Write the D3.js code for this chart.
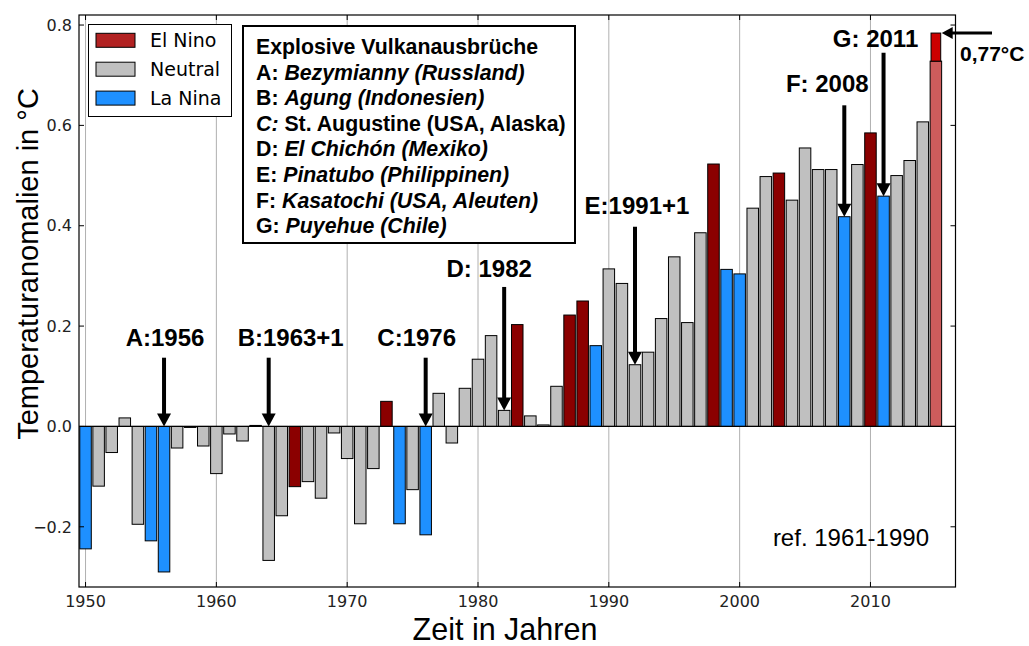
<!DOCTYPE html>
<html>
<head>
<meta charset="utf-8">
<script src="https://cdn.jsdelivr.net/npm/d3@7"></script>
<style>
	body { margin: 0; background: #fff; }
	svg { display: block; }
</style>
</head>
<body>
<div id="graph"></div>
<script>
// years 1950 - 2015
const years = [
	1950, 1951, 1952, 1953, 1954, 1955, 1956, 1957, 1958, 1959,
	1960, 1961, 1962, 1963, 1964, 1965, 1966, 1967, 1968, 1969,
	1970, 1971, 1972, 1973, 1974, 1975, 1976, 1977, 1978, 1979,
	1980, 1981, 1982, 1983, 1984, 1985, 1986, 1987, 1988, 1989,
	1990, 1991, 1992, 1993, 1994, 1995, 1996, 1997, 1998, 1999,
	2000, 2001, 2002, 2003, 2004, 2005, 2006, 2007, 2008, 2009,
	2010, 2011, 2012, 2013, 2014, 2015
];
// temperature anomaly (ref. 1961-1990)
const anomaly = [
	-0.244, -0.119, -0.052, 0.017, -0.195, -0.228, -0.290, -0.043, -0.002, -0.039,
	-0.094, -0.015, -0.029, 0.002, -0.267, -0.178, -0.120, -0.110, -0.143, -0.013,
	-0.064, -0.194, -0.084, 0.050, -0.194, -0.126, -0.216, 0.066, -0.033, 0.076,
	0.134, 0.181, 0.032, 0.203, 0.021, 0.003, 0.080, 0.222, 0.250, 0.161,
	0.314, 0.285, 0.123, 0.148, 0.215, 0.338, 0.207, 0.386, 0.523, 0.313,
	0.304, 0.435, 0.498, 0.505, 0.451, 0.555, 0.512, 0.512, 0.418, 0.522,
	0.585, 0.459, 0.500, 0.530, 0.607, 0.728
];
// ENSO phase: E = El Nino, N = Neutral, L = La Nina, P = 2015 (provisional)
const phase = [
	"L", "N", "N", "N", "N", "L", "L", "N", "N", "N",
	"N", "N", "N", "N", "N", "N", "E", "N", "N", "N",
	"N", "N", "N", "E", "L", "N", "L", "N", "N", "N",
	"N", "N", "N", "E", "N", "N", "N", "E", "E", "L",
	"N", "N", "N", "N", "N", "N", "N", "N", "E", "L",
	"L", "N", "N", "E", "N", "N", "N", "N", "L", "N",
	"E", "L", "N", "N", "N", "P"
];
// 2015 latest value on top of the bar
const latestYear = 2015;
const latestValue = 0.784;
const latestLabel = "0,77°C";

// volcanic eruptions
const eruptionYears = [1956, 1964, 1976, 1982, 1992, 2008, 2011];
const eruptionLabels = ["A:1956", "B:1963+1", "C:1976", "D: 1982", "E:1991+1", "F: 2008", "G: 2011"];

const legendLabels = ["El Nino", "Neutral", "La Nina"];
const xTicks = [1950, 1960, 1970, 1980, 1990, 2000, 2010];
const yTicks = [-0.2, 0.0, 0.2, 0.4, 0.6, 0.8];

const colors = { E: "#8b0000", N: "#c0c0c0", L: "#1e90ff", P: "#cd5c5c" };
const legendColors = ["#b22222", "#c0c0c0", "#1e90ff"];

const W = 1029, H = 646;
const plot = { left: 79, right: 955.5, top: 15, bottom: 587 };

const svg = d3.select("#graph").append("svg")
	.attr("width", W)
	.attr("height", H);

const x = d3.scaleLinear().domain([1949.5, 2016.5]).range([plot.left, plot.right]);
const y = d3.scaleLinear().domain([-0.32, 0.82]).range([plot.bottom, plot.top]);

svg.append("clipPath").attr("id", "clip")
	.append("rect")
	.attr("x", plot.left).attr("y", plot.top)
	.attr("width", plot.right - plot.left).attr("height", plot.bottom - plot.top);

// vertical grid lines
svg.append("g")
	.selectAll("line")
	.data(xTicks)
	.join("line")
	.attr("x1", (d) => x(d)).attr("x2", (d) => x(d))
	.attr("y1", plot.top).attr("y2", plot.bottom)
	.attr("stroke", "#b0b0b0")
	.attr("stroke-width", 1);

// bars
const barW = 0.88;
const bars = years.map((yr, i) => ({ year: yr, value: anomaly[i], phase: phase[i] }));
const gBars = svg.append("g").attr("clip-path", "url(#clip)");
gBars.selectAll("rect")
	.data(bars)
	.join("rect")
	.attr("x", (d) => x(d.year - barW / 2))
	.attr("width", x(barW) - x(0))
	.attr("y", (d) => y(Math.max(d.value, 0)))
	.attr("height", (d) => Math.abs(y(d.value) - y(0)))
	.attr("fill", (d) => colors[d.phase])
	.attr("stroke", "#000")
	.attr("stroke-width", 1);

// latest 2015 segment
const last = bars[bars.length - 1];
const segW = 0.74;
gBars.append("rect")
	.attr("x", x(latestYear - segW / 2))
	.attr("width", x(segW) - x(0))
	.attr("y", y(latestValue))
	.attr("height", y(last.value) - y(latestValue))
	.attr("fill", "#cc0000")
	.attr("stroke", "#000")
	.attr("stroke-width", 1);

// zero line
svg.append("line")
	.attr("x1", plot.left).attr("x2", plot.right)
	.attr("y1", y(0)).attr("y2", y(0))
	.attr("stroke", "#000")
	.attr("stroke-width", 1.2);

// frame
svg.append("rect")
	.attr("x", plot.left).attr("y", plot.top)
	.attr("width", plot.right - plot.left).attr("height", plot.bottom - plot.top)
	.attr("fill", "none")
	.attr("stroke", "#000")
	.attr("stroke-width", 1.2);

// ticks (pointing inwards on all four sides)
const tickLen = 5;
const gTicks = svg.append("g").attr("stroke", "#000").attr("stroke-width", 1);
xTicks.forEach((t) => {
	gTicks.append("line").attr("x1", x(t)).attr("x2", x(t)).attr("y1", plot.bottom).attr("y2", plot.bottom - tickLen);
	gTicks.append("line").attr("x1", x(t)).attr("x2", x(t)).attr("y1", plot.top).attr("y2", plot.top + tickLen);
});
yTicks.forEach((t) => {
	gTicks.append("line").attr("x1", plot.left).attr("x2", plot.left + tickLen).attr("y1", y(t)).attr("y2", y(t));
	gTicks.append("line").attr("x1", plot.right).attr("x2", plot.right - tickLen).attr("y1", y(t)).attr("y2", y(t));
});

// tick labels
const tickFont = "'DejaVu Sans', sans-serif";
svg.append("g")
	.selectAll("text")
	.data(xTicks)
	.join("text")
	.attr("x", (d) => x(d))
	.attr("y", 607)
	.attr("text-anchor", "middle")
	.style("font-family", tickFont)
	.style("font-size", "16px")
	.attr("fill", "#222")
	.text((d) => d);

svg.append("g")
	.selectAll("text")
	.data(yTicks)
	.join("text")
	.attr("x", plot.left - 7)
	.attr("y", (d) => y(d))
	.attr("dy", "0.36em")
	.attr("text-anchor", "end")
	.style("font-family", tickFont)
	.style("font-size", "16px")
	.attr("fill", "#222")
	.text((d) => d3.format(".1f")(d).replace("-", "\u2212"));

// axis titles
const labelFont = "'Liberation Sans', Arial, sans-serif";
svg.append("text")
	.attr("transform", "translate(38," + 264 + ") rotate(-90)")
	.attr("text-anchor", "middle")
	.style("font-family", labelFont)
	.style("font-size", "29px")
	.text("Temperaturanomalien in °C");

svg.append("text")
	.attr("x", 505)
	.attr("y", 640)
	.attr("text-anchor", "middle")
	.style("font-family", labelFont)
	.style("font-size", "30.5px")
	.text("Zeit in Jahren");

svg.append("text")
	.attr("x", 929)
	.attr("y", 546)
	.attr("text-anchor", "end")
	.style("font-family", labelFont)
	.style("font-size", "24px")
	.text("ref. 1961-1990");

// eruption arrows: horizontal label offset, arrow top (data units), label centre y
const arrowLayout = [
	{ dx: 1, top: 0.137, ly: 337 },
	{ dx: 22, top: 0.137, ly: 337 },
	{ dx: -9, top: 0.137, ly: 337 },
	{ dx: -15, top: 0.278, ly: 268 },
	{ dx: 2, top: 0.398, ly: 205 },
	{ dx: -17, top: 0.640, ly: 83 },
	{ dx: -8, top: 0.745, ly: 38 }
];

function downArrow(g, xPos, yTop, yTip) {
	const head = 13, half = 7;
	g.append("line")
		.attr("x1", xPos).attr("x2", xPos)
		.attr("y1", yTop).attr("y2", yTip - head + 1)
		.attr("stroke", "#000")
		.attr("stroke-width", 4);
	g.append("path")
		.attr("d", `M${xPos - half},${yTip - head} L${xPos + half},${yTip - head} L${xPos},${yTip} Z`)
		.attr("fill", "#000");
}

const gArrows = svg.append("g");
eruptionYears.forEach((yr, i) => {
	const v = anomaly[years.indexOf(yr)];
	const lay = arrowLayout[i];
	const ax = x(yr);
	downArrow(gArrows, ax, y(lay.top), y(Math.max(v, 0)));
	gArrows.append("text")
		.attr("x", ax + lay.dx)
		.attr("y", lay.ly)
		.attr("dy", "0.36em")
		.attr("text-anchor", "middle")
		.style("font-family", labelFont)
		.style("font-size", "24px")
		.style("font-weight", "bold")
		.text(eruptionLabels[i]);
});

// arrow to latest value
const tipX = x(latestYear + segW / 2) + 1;
const tipY = y(latestValue);
svg.append("line")
	.attr("x1", 992).attr("x2", tipX + 10)
	.attr("y1", tipY).attr("y2", tipY)
	.attr("stroke", "#000")
	.attr("stroke-width", 3);
svg.append("path")
	.attr("d", `M${tipX + 11},${tipY - 6} L${tipX + 11},${tipY + 6} L${tipX},${tipY} Z`)
	.attr("fill", "#000");
svg.append("text")
	.attr("x", 960)
	.attr("y", 53)
	.attr("dy", "0.36em")
	.style("font-family", labelFont)
	.style("font-size", "21px")
	.style("font-weight", "bold")
	.text(latestLabel);

// legend
const legend = svg.append("g");
legend.append("rect")
	.attr("x", 88.5).attr("y", 24.5)
	.attr("width", 143).attr("height", 92)
	.attr("fill", "#fff")
	.attr("stroke", "#000")
	.attr("stroke-width", 1);
legendLabels.forEach((lab, i) => {
	const cy = 40.3 + i * 28.9;
	legend.append("rect")
		.attr("x", 96).attr("y", cy - 7)
		.attr("width", 39).attr("height", 14)
		.attr("fill", legendColors[i])
		.attr("stroke", "#000")
		.attr("stroke-width", 1);
	legend.append("text")
		.attr("x", 150)
		.attr("y", cy)
		.attr("dy", "0.36em")
		.style("font-family", tickFont)
		.style("font-size", "19px")
		.text(lab);
});

// text box with eruption names
const boxLines = [
	[["Explosive Vulkanausbrüche", "normal"]],
	[["A: ", "normal"], ["Bezymianny (Russland)", "italic"]],
	[["B: ", "normal"], ["Agung (Indonesien)", "italic"]],
	[["C:", "italic"], [" St. Augustine (USA, Alaska)", "normal"]],
	[["D: ", "normal"], ["El Chichón (Mexiko)", "italic"]],
	[["E: ", "normal"], ["Pinatubo (Philippinen)", "italic"]],
	[["F: ", "normal"], ["Kasatochi (USA, Aleuten)", "italic"]],
	[["G: ", "normal"], ["Puyehue (Chile)", "italic"]]
];
const box = svg.append("g");
box.append("rect")
	.attr("x", 243).attr("y", 26)
	.attr("width", 332).attr("height", 217)
	.attr("fill", "#fff")
	.attr("stroke", "#000")
	.attr("stroke-width", 2);
boxLines.forEach((parts, i) => {
	const t = box.append("text")
		.attr("x", 256)
		.attr("y", 54 + i * 25.6)
		.style("font-family", labelFont)
		.style("font-size", "21.3px")
		.style("font-weight", "bold")
		.style("white-space", "pre");
	parts.forEach(([s, st]) => t.append("tspan").style("font-style", st).text(s));
});
</script>
</body>
</html>
